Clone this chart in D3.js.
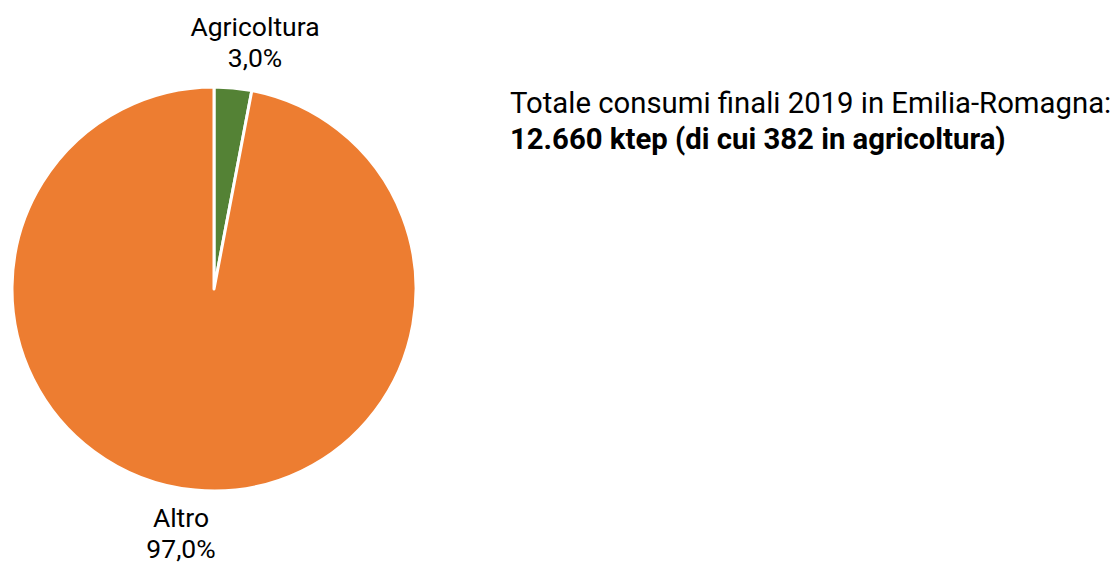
<!DOCTYPE html>
<html>
<head>
<meta charset="utf-8">
<script src="https://cdn.jsdelivr.net/npm/d3@7"></script>
<style>
  body { margin: 0; background: #fff; }
  text { font-family: Roboto, sans-serif; fill: #000; }
</style>
</head>
<body>
<svg id="chart" width="1115" height="564"></svg>
<script>
// dati
var categories = ["Agricoltura", "Altro"]
var values = [3.0, 97.0]
var colors = ["#548235", "#ED7D31"]
var titleLines = ["Totale consumi finali 2019 in Emilia-Romagna:", "12.660 ktep (di cui 382 in agricoltura)"]

var svg = d3.select("#chart")
var cx = 214, cy = 289, radius = 202

var pie = d3.pie().sort(null).value(d => d)
var arc = d3.arc().innerRadius(0).outerRadius(radius)

var g = svg.append("g").attr("transform", "translate(" + cx + "," + cy + ")")

var arcs = pie(values)

g.selectAll("path")
  .data(arcs)
  .enter()
  .append("path")
  .attr("d", arc)
  .style("fill", (d, i) => colors[i])
  .style("stroke", "#fff")
  .style("stroke-width", 3)
  .style("stroke-linejoin", "round")

// etichette fuori dalla torta
var labelPos = [[41, -253], [-33, 238]]
arcs.forEach((d, i) => {
  var t = g.append("text")
    .attr("text-anchor", "middle")
    .attr("x", labelPos[i][0])
    .attr("y", labelPos[i][1])
    .style("font-size", "26.5px")
  t.append("tspan").attr("x", labelPos[i][0]).text(categories[i])
  t.append("tspan").attr("x", labelPos[i][0]).attr("dy", 31)
    .text(d3.format(".1f")(values[i]).replace(".", ",") + "%")
})

// titolo
svg.append("text")
  .attr("x", 510).attr("y", 113)
  .style("font-size", "29.3px")
  .text(titleLines[0])
svg.append("text")
  .attr("x", 510).attr("y", 149)
  .style("font-size", "29.3px")
  .style("font-weight", "bold")
  .text(titleLines[1])
</script>
</body>
</html>
